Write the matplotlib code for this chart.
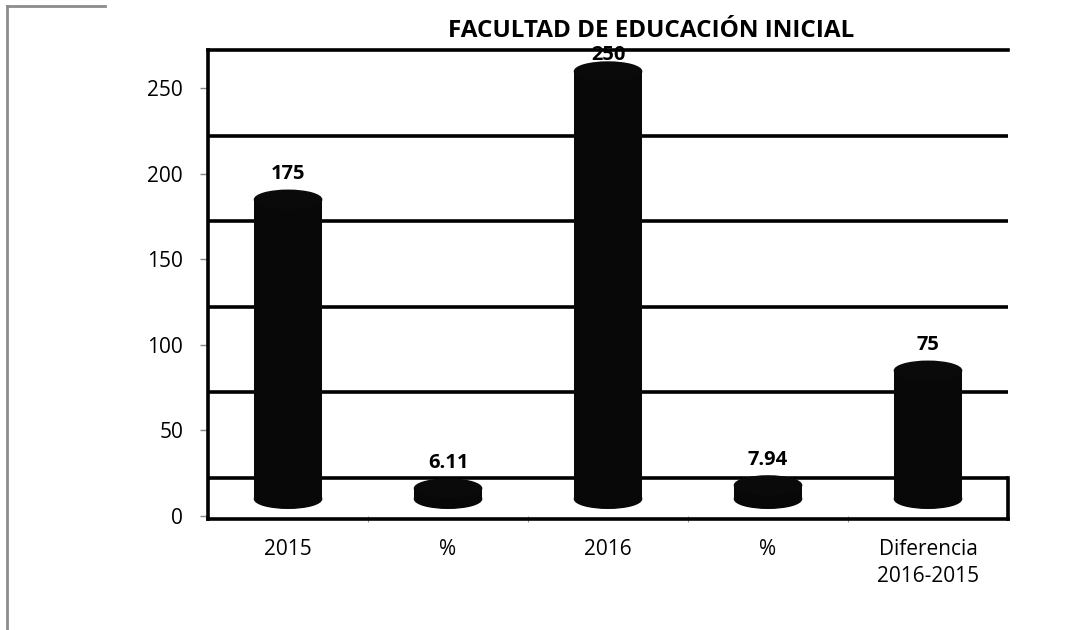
import matplotlib
matplotlib.use("Agg")
import matplotlib.pyplot as plt
from matplotlib.patches import Ellipse
from matplotlib.lines import Line2D

plt.rcParams['font.family'] = ['Open Sans', 'DejaVu Sans']

categories = ["2015", "%", "2016", "%", "Diferencia\n2016-2015"]
values = [175, 6.11, 250, 7.94, 75]
labels = ["175", "6.11", "250", "7.94", "75"]
title = "FACULTAD DE EDUCACIÓN INICIAL"

# fake 3d: back wall sits "depth" units above the front, bars in the middle
depth = 22.5
mid = 10.0
cap = 5.5
bar_w = 0.42

fig = plt.figure(figsize=(10.67, 6.3), dpi=100)
ax = fig.add_axes([0.195, 0.1754, 0.7497, 0.7452])
ax.set_xlim(-0.5, 4.5)
ax.set_ylim(-2.05, 250 + depth)

# back wall gridlines
for v in range(0, 250, 50):
    ax.axhline(v + depth, color="black", lw=2.6, zorder=1)

# floor right edge
ax.plot([4.5, 4.5], [-2.05, depth], color="black", lw=2.6, clip_on=False, zorder=1)

xs = list(range(len(values)))
ax.bar(xs, values, bottom=mid, width=bar_w, color="#080808", zorder=3)
for x, v, lab in zip(xs, values, labels):
    ax.add_patch(Ellipse((x, mid), bar_w, 2 * cap, color="#080808", zorder=3))
    ax.add_patch(Ellipse((x, v + mid), bar_w, 2 * cap, color="#0a0a0a", zorder=4))
    ty = min(v + mid + cap + 9.5, 250 + depth - 3)
    ax.text(x, ty, lab, ha="center", va="center", fontsize=14.5,
            fontweight="bold", zorder=2, clip_on=False)

for s in ["left", "bottom", "top"]:
    ax.spines[s].set_linewidth(2.6)
    ax.spines[s].set_color("black")
ax.spines["right"].set_visible(False)

ax.set_yticks(range(0, 251, 50))
ax.tick_params(axis="y", length=6, width=1, color="#888888", pad=12, labelsize=15)
ax.set_xticks(xs)
ax.set_xticklabels(categories, linespacing=1.35)
ax.tick_params(axis="x", length=0, pad=14, labelsize=15)
ax.set_xticks([0.5, 1.5, 2.5, 3.5], minor=True)
ax.tick_params(axis="x", which="minor", length=5, direction="inout", color="#888888")

fig.text(0.61, 1 - 31 / 630, title, ha="center", va="center",
         fontsize=17.5, fontweight="bold")

# chart area border remnant
fig.add_artist(Line2D([7 / 1067, 7 / 1067], [0, 1 - 6 / 630], color="#8c8c8c", lw=2))
fig.add_artist(Line2D([7 / 1067, 105 / 1067], [1 - 6 / 630, 1 - 6 / 630], color="#8c8c8c", lw=2))

fig.savefig("out.png", dpi=100)
